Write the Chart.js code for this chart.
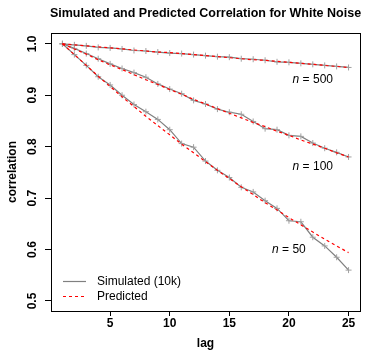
<!DOCTYPE html>
<html>
<head>
<meta charset="utf-8">
<script src="https://cdn.jsdelivr.net/npm/chart.js@4.4.1/dist/chart.umd.min.js"></script>
<style>
  html, body { margin: 0; padding: 0; background: #fff; }
  #wrap { width: 365px; height: 354px; }
</style>
</head>
<body>
<div id="wrap"><canvas id="chart" width="365" height="354"></canvas></div>
<script>
const lags = [1, 2, 3, 4, 5, 6, 7, 8, 9, 10, 11, 12, 13, 14, 15, 16, 17, 18, 19, 20, 21, 22, 23, 24, 25];

const sim500 = [1.000, 0.998, 0.996, 0.993, 0.992, 0.990, 0.987, 0.986, 0.984, 0.982, 0.981, 0.979, 0.977,
  0.975, 0.974, 0.971, 0.970, 0.968, 0.965, 0.964, 0.962, 0.960, 0.958, 0.956, 0.954];
const pred500 = [1.000, 0.998, 0.996, 0.994, 0.992, 0.990, 0.988, 0.986, 0.984, 0.983, 0.981, 0.979, 0.977,
  0.975, 0.973, 0.971, 0.969, 0.968, 0.966, 0.964, 0.962, 0.960, 0.958, 0.956, 0.954];

const sim100 = [1.000, 0.991, 0.981, 0.971, 0.961, 0.952, 0.944, 0.935, 0.922, 0.912, 0.903, 0.890, 0.883,
  0.873, 0.867, 0.863, 0.849, 0.835, 0.833, 0.822, 0.820, 0.807, 0.797, 0.789, 0.780];
const pred100 = [1.000, 0.990, 0.980, 0.969, 0.959, 0.950, 0.940, 0.930, 0.921, 0.911, 0.902, 0.892, 0.883,
  0.874, 0.865, 0.856, 0.847, 0.839, 0.830, 0.822, 0.813, 0.805, 0.797, 0.788, 0.780];

const sim50 = [1.000, 0.979, 0.958, 0.936, 0.920, 0.900, 0.882, 0.868, 0.853, 0.833, 0.806, 0.799, 0.772,
  0.754, 0.740, 0.721, 0.712, 0.695, 0.680, 0.656, 0.654, 0.624, 0.607, 0.585, 0.560];
const pred50 = [1.000, 0.979, 0.958, 0.937, 0.917, 0.897, 0.878, 0.859, 0.841, 0.823, 0.805, 0.788, 0.771,
  0.754, 0.738, 0.722, 0.707, 0.691, 0.677, 0.662, 0.648, 0.634, 0.620, 0.607, 0.594];

const xTicks = [5, 10, 15, 20, 25];
const yTicks = [0.5, 0.6, 0.7, 0.8, 0.9, 1.0];
const yTickLabels = ['0.5', '0.6', '0.7', '0.8', '0.9', '1.0'];

// curve labels: [n, lag, correlation]
const curveLabels = [['500', 22.0, 0.930], ['100', 22.0, 0.761], ['50', 20.0, 0.599]];
const legendLabels = ['Simulated (10k)', 'Predicted'];

const simColor = '#808080';
const predColor = '#ff0000';
const FONT = '"Liberation Sans", Arial, Helvetica, sans-serif';

function toPoints(values) {
  return values.map((v, i) => ({ x: lags[i], y: v }));
}

function simSet(values) {
  return {
    data: toPoints(values),
    borderColor: simColor,
    borderWidth: 1.2,
    pointStyle: 'cross',
    pointRadius: 3,
    pointBorderColor: '#a0a0a0',
    pointBorderWidth: 1,
    pointBackgroundColor: 'transparent',
    order: 2
  };
}

function predSet(values) {
  return {
    data: toPoints(values),
    borderColor: predColor,
    borderWidth: 1.2,
    borderDash: [3, 3],
    pointRadius: 0,
    order: 1
  };
}

const extras = {
  id: 'extras',
  afterDraw(chart) {
    const ctx = chart.ctx;
    const area = chart.chartArea;
    const xs = chart.scales.x;
    const ys = chart.scales.y;
    ctx.save();

    // box
    ctx.strokeStyle = '#000';
    ctx.lineWidth = 1;
    ctx.strokeRect(Math.round(area.left) + 0.5, Math.round(area.top) + 0.5,
      Math.round(area.right - area.left), Math.round(area.bottom - area.top));

    // title
    ctx.fillStyle = '#000';
    ctx.font = 'bold 12.5px ' + FONT;
    ctx.textAlign = 'center';
    ctx.textBaseline = 'middle';
    ctx.fillText('Simulated and Predicted Correlation for White Noise', (area.left + area.right) / 2, 14);

    // rotated y tick labels
    ctx.font = 'bold 12px ' + FONT;
    yTicks.forEach((v, i) => {
      ctx.save();
      ctx.translate(33, ys.getPixelForValue(v));
      ctx.rotate(-Math.PI / 2);
      ctx.fillText(yTickLabels[i], 0, 0);
      ctx.restore();
    });

    // n = ... labels
    ctx.textAlign = 'left';
    curveLabels.forEach(([n, lag, val]) => {
      const rest = ' = ' + n;
      ctx.font = 'italic 12px ' + FONT;
      const w1 = ctx.measureText('n').width;
      ctx.font = '12px ' + FONT;
      const w2 = ctx.measureText(rest).width;
      const x0 = xs.getPixelForValue(lag) - (w1 + w2) / 2;
      const y0 = ys.getPixelForValue(val);
      ctx.font = 'italic 12px ' + FONT;
      ctx.fillText('n', x0, y0);
      ctx.font = '12px ' + FONT;
      ctx.fillText(rest, x0 + w1, y0);
    });

    // legend
    const lx = area.left + 12;
    const ly = area.bottom - 30;
    ctx.lineWidth = 1.2;
    ctx.strokeStyle = simColor;
    ctx.beginPath();
    ctx.moveTo(lx, ly + 0.5);
    ctx.lineTo(lx + 23, ly + 0.5);
    ctx.stroke();
    ctx.strokeStyle = predColor;
    ctx.setLineDash([3, 3]);
    ctx.beginPath();
    ctx.moveTo(lx, ly + 15.5);
    ctx.lineTo(lx + 23, ly + 15.5);
    ctx.stroke();
    ctx.setLineDash([]);
    ctx.font = '12px ' + FONT;
    ctx.fillText(legendLabels[0], lx + 34, ly + 1);
    ctx.fillText(legendLabels[1], lx + 34, ly + 16);

    ctx.restore();
  }
};

new Chart(document.getElementById('chart'), {
  type: 'line',
  data: {
    datasets: [
      simSet(sim500), predSet(pred500),
      simSet(sim100), predSet(pred100),
      simSet(sim50), predSet(pred50)
    ]
  },
  options: {
    responsive: false,
    animation: false,
    events: [],
    layout: { padding: { top: 33, right: 4, left: 0, bottom: 0 } },
    plugins: {
      legend: { display: false },
      tooltip: { enabled: false },
      title: { display: false }
    },
    scales: {
      x: {
        type: 'linear',
        min: 0.04,
        max: 25.96,
        afterBuildTicks: (s) => { s.ticks = xTicks.map(v => ({ value: v })); },
        afterFit: (s) => { s.height = 43; },
        border: { display: false },
        grid: { drawOnChartArea: false, drawTicks: true, tickLength: 5, color: '#000', tickWidth: 1 },
        ticks: {
          color: '#000',
          padding: 0,
          maxRotation: 0,
          font: { family: FONT, size: 12, weight: 'bold' }
        },
        title: {
          display: true,
          text: 'lag',
          color: '#000',
          padding: { top: 0, bottom: 3 },
          font: { family: FONT, size: 12, weight: 'bold' }
        }
      },
      y: {
        min: 0.4805,
        max: 1.021,
        afterBuildTicks: (s) => { s.ticks = yTicks.map(v => ({ value: v })); },
        afterFit: (s) => { s.width = 51; },
        border: { display: false },
        grid: { drawOnChartArea: false, drawTicks: true, tickLength: 6, color: '#000', tickWidth: 1 },
        ticks: { display: false },
        title: {
          display: true,
          text: 'correlation',
          color: '#000',
          padding: { top: 5, bottom: 0 },
          font: { family: FONT, size: 12, weight: 'bold' }
        }
      }
    }
  },
  plugins: [extras]
});
</script>
</body>
</html>
